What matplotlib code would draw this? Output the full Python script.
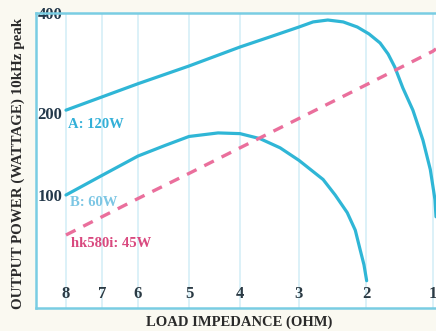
import numpy as np
import matplotlib
matplotlib.use("Agg")
import matplotlib.pyplot as plt

# ---- data ----
x_ticks = [8, 7, 6, 5, 4, 3, 2, 1]
y_ticks = [100, 200, 400]

a_ohm = [8.0, 6.0, 5.0, 4.0, 3.49, 3.0, 2.79, 2.57, 2.34, 2.13, 1.955, 1.79,
         1.67, 1.57, 1.45, 1.30, 1.15, 1.04, 0.97, 0.955]
a_watt = [204, 245, 277, 316, 339, 363, 376, 381, 376, 363, 346, 325,
          301, 275, 238, 204, 159, 124, 96, 83]

b_ohm = [8.0, 7.0, 6.0, 5.47, 5.0, 4.43, 4.0, 3.66, 3.32, 3.0, 2.64, 2.46,
         2.28, 2.16, 2.09, 2.03, 1.99]
b_watt = [100, 118, 139, 152, 164, 169, 168, 161, 149, 134, 114, 100,
          86, 74, 63, 55, 48]

hk_ohm = [8.0, 7.0, 6.0, 5.0, 4.0, 3.0, 2.0, 1.0, 0.955]
hk_watt = [71, 83, 97, 120, 149, 191, 243, 307, 312]

labels = ["A: 120W", "B: 60W", "hk580i: 45W"]

# ---- custom (hand drawn) axis scales ----
_xv = np.array([0, 1, 2, 3, 4, 5, 6, 7, 8, 9], dtype=float)
_xp = -np.array([500, 433, 366, 299, 240, 189, 138, 102, 66, 30], dtype=float)

def xfwd(v):
    v = np.asarray(v, dtype=float)
    return np.interp(v, _xv, _xp)

def xinv(p):
    p = np.asarray(p, dtype=float)
    return np.interp(p, _xp, _xv)

_yv = np.log2(np.array([10, 38, 100, 200, 400, 2000], dtype=float))
_yp = np.array([-158, 0, 113, 195, 295, 527], dtype=float)

def yfwd(w):
    w = np.clip(np.asarray(w, dtype=float), 1e-3, None)
    return np.interp(np.log2(w), _yv, _yp)

def yinv(p):
    p = np.asarray(p, dtype=float)
    return 2 ** np.interp(p, _yp, _yv)

fig = plt.figure(figsize=(4.36, 3.31), dpi=100, facecolor="#faf9f1")
ax = fig.add_axes([36 / 436, 23 / 331, 400 / 436, 295 / 331])
ax.set_facecolor("white")
ax.set_xscale("function", functions=(xfwd, xinv))
ax.set_yscale("function", functions=(yfwd, yinv))
ax.set_xlim(8.833, 0.955)
ax.set_ylim(38, 400)

serif = ["Liberation Serif", "DejaVu Serif"]
cyan = "#2fb6d6"

ax.set_xticks(x_ticks)
ax.set_xticklabels([str(t) for t in x_ticks], fontfamily=serif,
                   fontweight="bold", fontsize=12, color="#2b3a44")
ax.set_yticks(y_ticks)
ax.set_yticklabels([str(t) for t in y_ticks], fontfamily=serif,
                   fontweight="bold", fontsize=12, color="#23384a")
ax.yaxis.set_minor_locator(matplotlib.ticker.NullLocator())
ax.xaxis.set_minor_locator(matplotlib.ticker.NullLocator())
ax.tick_params(axis="x", length=0, pad=-15.5)
ax.tick_params(axis="y", length=0, pad=-1)
for lbl in ax.get_yticklabels():
    lbl.set_horizontalalignment("left")

ax.grid(axis="x", color="#d6eff7", linewidth=1.2)
ax.set_axisbelow(True)

for side in ["left", "bottom", "top"]:
    ax.spines[side].set_color("#79cde3")
    ax.spines[side].set_linewidth(1.8)
ax.spines["right"].set_visible(False)

ax.plot(a_ohm, a_watt, color=cyan, linewidth=2.3, solid_capstyle="round",
        solid_joinstyle="round")
ax.plot(b_ohm, b_watt, color=cyan, linewidth=2.3, solid_capstyle="round",
        solid_joinstyle="round")
ax.plot(hk_ohm, hk_watt, color="#ea6f9c", linewidth=2.4,
        linestyle=(0, (3.2, 2.6)))

ax.text(7.95, 181, labels[0], fontfamily=serif, fontweight="bold",
        fontsize=10.5, color="#33b0d8", va="center", ha="left")
ax.text(7.9, 94, labels[1], fontfamily=serif, fontweight="bold",
        fontsize=10.5, color="#7cc6e4", va="center", ha="left")
ax.text(7.85, 66, labels[2], fontfamily=serif, fontweight="bold",
        fontsize=10.5, color="#d9497f", va="center", ha="left")

fig.text(18 / 436, 1 - 163 / 331, "OUTPUT POWER (WATTAGE) 10kHz peak",
         rotation=90, fontfamily=serif, fontweight="bold", fontsize=10.8,
         color="#2a2a2a", ha="center", va="center")
fig.text(239 / 436, 1 - 322 / 331, "LOAD IMPEDANCE (OHM)",
         fontfamily=serif, fontweight="bold", fontsize=10.5,
         color="#2a2a2a", ha="center", va="center")

fig.savefig("out.png", dpi=100, facecolor=fig.get_facecolor())
